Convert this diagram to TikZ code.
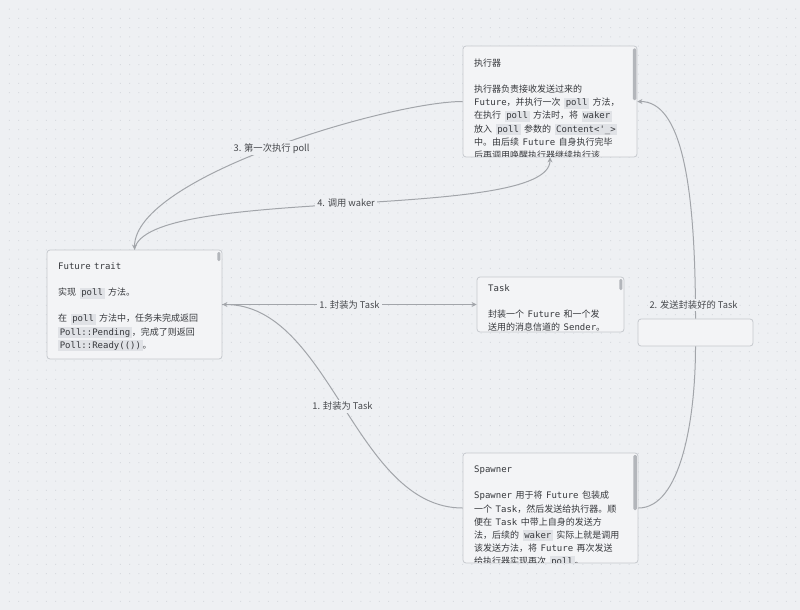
\documentclass[tikz,border=0pt]{standalone}
\usepackage{fontspec}
\setmainfont{Noto Sans CJK SC}
\newfontfamily\monof{DejaVu Sans Mono}
\usetikzlibrary{arrows.meta}
\definecolor{bgc}{HTML}{EEF0F3}
\definecolor{dotc}{HTML}{D8DBE0}
\definecolor{boxc}{HTML}{F3F4F6}
\definecolor{bordc}{HTML}{C6C9CE}
\definecolor{linec}{HTML}{A2A5AA}
\definecolor{txtc}{HTML}{36383C}
\definecolor{lblc}{HTML}{45474B}
\definecolor{codebg}{HTML}{E0E2E6}
\definecolor{scrollc}{HTML}{B3B6BB}
\newcommand\code[1]{{\setlength{\fboxsep}{0pt}\colorbox{codebg}{\rule[-2.8pt]{0pt}{11pt}\hspace{1.6pt}\monof #1\hspace{1.6pt}}}}
\newcommand\mw[1]{{\monof #1}}
\protected\def\boxfont{\fontsize{9}{13.1}\selectfont\spaceskip 3.5pt\relax}
\protected\def\lblfont{\fontsize{9.3}{11}\selectfont}
\tikzset{
  boxnode/.style={draw=bordc, fill=boxc, rounded corners=3pt, line width=0.8pt, inner sep=0pt},
  txt/.style={anchor=north west, inner sep=0pt, align=left, text=txtc, font=\boxfont},
  lbl/.style={fill=bgc, inner sep=2pt, text=lblc, font=\lblfont},
  edge/.style={draw=linec, line width=1pt, -{Stealth[length=5pt,width=5pt]}},
  plain/.style={draw=linec, line width=1pt},
  scroll/.style={fill=scrollc, rounded corners=1.2pt}
}
\begin{document}
\begin{tikzpicture}[x=1pt,y=-1pt]
\fill[bgc] (0,0) rectangle (800,610);
\useasboundingbox (0,0) rectangle (800,610);
\foreach \j in {1,...,65} {
  \fill[dotc] \foreach \i in {1,...,86} {(\i*9.25-0.5,\j*9.25-0.5) rectangle +(1,1)};
}

% boxes
\node[boxnode, minimum width=174pt, minimum height=111pt] (exec) at (550,101.5) {};
\node[boxnode, minimum width=175pt, minimum height=109pt] (fut) at (134.5,304.5) {};
\node[boxnode, minimum width=147pt, minimum height=55pt] (task) at (550.5,304.5) {};
\node[boxnode, minimum width=115pt, minimum height=27pt] (empty) at (695.5,332.5) {};
\node[boxnode, minimum width=175pt, minimum height=110pt] (spawn) at (550.5,508) {};

% texts
\begin{scope}
\clip ([xshift=1pt,yshift=-1pt]exec.north west) rectangle ([xshift=-1pt,yshift=1pt]exec.south east);
\node[txt] (exect) at (474,57.2) {\strut 执行器\\ \strut\\
执行器负责接收发送过来的\\
\mw{Future}，并执行一次 \code{poll} 方法，\\
在执行 \code{poll} 方法时，将 \code{waker}\\
放入 \code{poll} 参数的 \code{Content<'\_>}\\
中。由后续 \mw{Future} 自身执行完毕\\
后再调用唤醒执行器继续执行该};
\end{scope}
\fill[scroll] (632.8,48.5) rectangle (636.3,100);

\begin{scope}
\clip ([xshift=1pt,yshift=-1pt]fut.north west) rectangle ([xshift=-1pt,yshift=1pt]fut.south east);
\node[txt] (futt) at (58,260.2) {\strut\mw{Future trait}\\ \strut\\
实现 \code{poll} 方法。\\ \strut\\
在 \code{poll} 方法中，任务未完成返回\\
\code{Poll::Pending}，完成了则返回\\
\code{Poll::Ready(())}。};
\end{scope}
\fill[scroll] (217.3,252) rectangle (220.3,261);

\begin{scope}
\clip ([xshift=1pt,yshift=-1pt]task.north west) rectangle ([xshift=-1pt,yshift=1pt]task.south east);
\node[txt] (taskt) at (488,282.2) {\strut\mw{Task}\\ \strut\\
封装一个 \mw{Future} 和一个发\\
送用的消息信道的 \mw{Sender}。};
\end{scope}
\fill[scroll] (619.3,279) rectangle (622.3,290);

\begin{scope}
\clip ([xshift=1pt,yshift=-1pt]spawn.north west) rectangle ([xshift=-1pt,yshift=1pt]spawn.south east);
\node[txt] (spawnt) at (474,463.4) {\strut\mw{Spawner}\\ \strut\\
\mw{Spawner} 用于将 \mw{Future} 包装成\\
一个 \mw{Task}，然后发送给执行器。顺\\
便在 \mw{Task} 中带上自身的发送方\\
法，后续的 \code{waker} 实际上就是调用\\
该发送方法，将 \mw{Future} 再次发送\\
给执行器实现再次 \code{poll}。};
\end{scope}
\fill[scroll] (633.3,455) rectangle (636.8,510);

% connectors
\draw[edge] (fut.east) -- node[lbl] (l1a) {1. 封装为 Task} (task.west);
\draw[edge] (spawn.west) .. controls +(-108,0) and +(108,0) .. node[lbl] (l1b) {1. 封装为 Task} (fut.east);
\draw[edge] (exec.west) .. controls +(-72,0) and +(0,-73) .. node[lbl] (l3) {3. 第一次执行 poll} (fut.north);
\draw[edge] (fut.north) .. controls +(10,-65) and +(0,65) .. node[lbl] (l4) {4. 调用 waker} (exec.south);
\draw[plain] (spawn.east) .. controls +(42,0) and +(0,74) .. (empty.south);
\draw[edge] (empty.north) .. controls +(0,-139) and +(43,0) .. (exec.east);
\node[lbl] (l2) at (693.5,305) {2. 发送封装好的 Task};
\end{tikzpicture}
\end{document}
